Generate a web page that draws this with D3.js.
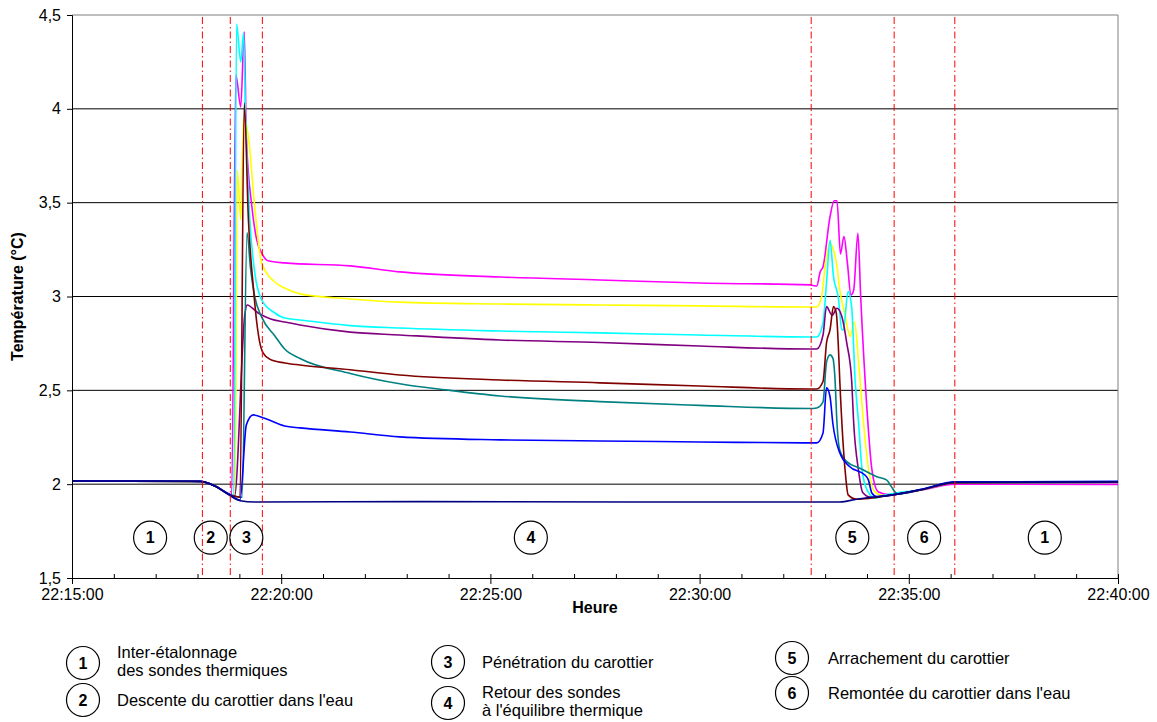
<!DOCTYPE html>
<html>
<head>
<meta charset="utf-8">
<script src="https://cdn.jsdelivr.net/npm/d3@7/dist/d3.min.js"></script>
<style>
  body { margin: 0; background: #fff; }
  text { font-family: "Liberation Sans", Arial, sans-serif; }
</style>
</head>
<body>
<div id="chart"></div>
<script>
// temps en secondes depuis 22:15:00, valeurs en °C
const startTime = "22:15:00";

const sondeMagenta = [[0,2.017],[184,2.014],[205,1.99],[226,1.945],[229,1.94],[235,4.18],[242,4.01],[247,4.41],[250,3.85],[258,3.477],[265,3.30],[272,3.232],[281,3.19],[305,3.179],[399,3.163],[470,3.131],[614,3.104],[757,3.088],[900,3.072],[1058,3.062],[1068,3.056],[1073,3.132],[1077,3.159],[1087,3.425],[1093,3.51],[1097,3.51],[1102,3.227],[1107,3.319],[1112,3.177],[1117,3.008],[1121,3.035],[1127,3.337],[1131,3.0],[1140,2.40],[1147,2.08],[1156,1.96],[1173,1.943],[1220,1.97],[1266,2.0],[1500,1.998]];
const sondeJaune = [[0,2.017],[184,2.014],[205,1.99],[226,1.945],[234,1.935],[237,3.674],[242,3.41],[246,3.95],[253,3.85],[262,3.477],[272,3.179],[290,3.08],[305,3.045],[327,3.014],[399,2.987],[470,2.97],[614,2.96],[757,2.955],[900,2.95],[1058,2.944],[1068,2.944],[1075,3.0],[1080,3.159],[1087,3.285],[1092,3.248],[1097,3.159],[1101,3.035],[1108,2.912],[1116,2.786],[1122,2.866],[1128,2.65],[1135,2.33],[1143,2.06],[1151,1.96],[1163,1.94],[1220,1.972],[1266,2.008],[1500,2.01]];
const sondeCyan = [[0,2.017],[184,2.014],[205,1.99],[226,1.945],[232,1.935],[236,4.452],[242,4.25],[246,4.404],[249,3.94],[255,3.408],[262,3.13],[272,2.982],[291,2.912],[305,2.885],[327,2.875],[399,2.845],[470,2.832],[614,2.816],[757,2.806],[900,2.795],[1058,2.784],[1068,2.784],[1077,2.859],[1082,3.072],[1087,3.30],[1092,3.106],[1099,2.992],[1104,2.822],[1106,2.822],[1113,3.026],[1118,2.946],[1123,2.555],[1128,2.325],[1133,2.076],[1140,1.97],[1152,1.925],[1159,1.934],[1220,1.972],[1266,2.008],[1500,2.01]];
const sondeViolet = [[0,2.017],[184,2.014],[205,1.99],[226,1.945],[233,1.935],[248,2.91],[251,2.955],[267,2.912],[285,2.88],[305,2.864],[327,2.848],[399,2.81],[470,2.795],[614,2.768],[757,2.755],[900,2.736],[1058,2.72],[1068,2.72],[1077,2.795],[1082,2.946],[1090,2.90],[1097,2.937],[1104,2.893],[1111,2.753],[1118,2.555],[1121,2.325],[1128,2.07],[1134,1.955],[1145,1.93],[1177,1.943],[1220,1.972],[1266,2.008],[1500,2.01]];
const sondeSarcelle = [[0,2.017],[184,2.014],[205,1.99],[226,1.945],[244,1.93],[251,3.339],[256,3.15],[262,3.0],[272,2.89],[291,2.79],[305,2.72],[327,2.67],[399,2.59],[470,2.535],[542,2.50],[614,2.47],[757,2.44],[900,2.42],[1058,2.403],[1068,2.406],[1077,2.438],[1082,2.65],[1087,2.689],[1091,2.673],[1094,2.573],[1097,2.325],[1101,2.182],[1111,2.12],[1130,2.085],[1154,2.04],[1168,2.023],[1175,1.987],[1180,1.96],[1184,1.948],[1220,1.972],[1266,2.008],[1500,2.01]];
const sondeBordeaux = [[0,2.017],[184,2.014],[205,1.99],[226,1.945],[241,1.93],[247,4.031],[253,3.408],[260,3.051],[265,2.86],[269,2.76],[274,2.70],[284,2.665],[305,2.646],[327,2.635],[399,2.61],[470,2.582],[614,2.555],[757,2.54],[900,2.523],[1058,2.507],[1068,2.507],[1077,2.547],[1082,2.753],[1087,2.822],[1092,2.946],[1096,2.912],[1099,2.733],[1101,2.555],[1109,2.06],[1113,1.943],[1125,1.92],[1177,1.943],[1220,1.972],[1266,2.008],[1500,2.01]];
const sondeBleu = [[0,2.017],[184,2.015],[205,1.99],[226,1.945],[241,1.915],[250,2.316],[260,2.369],[277,2.35],[305,2.31],[327,2.30],[399,2.278],[470,2.252],[614,2.236],[757,2.23],[900,2.225],[1058,2.22],[1068,2.22],[1077,2.273],[1082,2.513],[1087,2.467],[1091,2.326],[1101,2.167],[1115,2.094],[1137,2.049],[1142,2.023],[1147,1.953],[1154,1.934],[1177,1.943],[1220,1.974],[1266,2.012],[1500,2.015]];
const sondeMarine = [[0,2.017],[184,2.015],[205,1.99],[226,1.94],[241,1.912],[262,1.905],[500,1.907],[800,1.905],[1101,1.905],[1125,1.92],[1177,1.943],[1220,1.973],[1266,2.01],[1500,2.012]];

const series = [
  { data: sondeMagenta, color: "#FF00FF" },
  { data: sondeJaune, color: "#FFFF00" },
  { data: sondeCyan, color: "#00FFFF" },
  { data: sondeViolet, color: "#800080" },
  { data: sondeSarcelle, color: "#008080" },
  { data: sondeBordeaux, color: "#800000" },
  { data: sondeBleu, color: "#0000FF" },
  { data: sondeMarine, color: "#000080" }
];

// limites des phases (secondes)
const phaseLimits = [187, 227, 273, 1060, 1179, 1266];
// numéros des phases et position
const phaseNums = [1, 2, 3, 4, 5, 6, 1];
const phaseTimes = [112, 199, 250, 658, 1119, 1222, 1395];
const phaseLevel = 1.715;

const yTicks = [1.5, 2, 2.5, 3, 3.5, 4, 4.5];
const gridValues = [2, 2.5, 3, 3.5, 4];

const legendNums = [1, 2, 3, 4, 5, 6];
const legendTexts = [
  ["Inter-étalonnage", "des sondes thermiques"],
  ["Descente du carottier dans l'eau"],
  ["Pénétration du carottier"],
  ["Retour des sondes", "à l'équilibre thermique"],
  ["Arrachement du carottier"],
  ["Remontée du carottier dans l'eau"]
];

const width = 1157, height = 722;
const margin = { left: 72, right: 39, top: 15, bottom: 144 };

const t0 = d3.timeParse("%H:%M:%S")(startTime);
const toDate = s => new Date(t0.getTime() + s * 1000);

const svg = d3.select("#chart").append("svg")
  .attr("width", width)
  .attr("height", height);

svg.append("rect").attr("width", width).attr("height", height).attr("fill", "#fff");

const x = d3.scaleTime()
  .domain([t0, toDate(1500)])
  .range([margin.left, width - margin.right]);
const y = d3.scaleLinear()
  .domain([1.5, 4.5])
  .range([height - margin.bottom, margin.top]);

// grille horizontale
svg.append("g").selectAll("line")
  .data(gridValues)
  .enter().append("line")
  .attr("x1", x.range()[0]).attr("x2", x.range()[1])
  .attr("y1", d => y(d)).attr("y2", d => y(d))
  .attr("stroke", "#000").attr("stroke-width", 1);

// cadre haut et droit
svg.append("path")
  .attr("d", `M${x.range()[0]},${y(4.5)}H${x.range()[1]}V${y(1.5)}`)
  .attr("fill", "none").attr("stroke", "#808080").attr("stroke-width", 1);

// lignes des sondes
const line = d3.line()
  .x(d => x(toDate(d[0])))
  .y(d => y(d[1]))
  .curve(d3.curveMonotoneX);

svg.append("g").selectAll("path")
  .data(series)
  .enter().append("path")
  .attr("d", d => line(d.data))
  .attr("fill", "none")
  .attr("stroke", d => d.color)
  .attr("stroke-width", 1.6)
  .attr("stroke-linejoin", "round");

// limites des phases
svg.append("g").selectAll("line")
  .data(phaseLimits)
  .enter().append("line")
  .attr("x1", d => x(toDate(d))).attr("x2", d => x(toDate(d)))
  .attr("y1", y(4.5) + 2).attr("y2", y(1.5))
  .attr("stroke", "#FF0000").attr("stroke-width", 1)
  .attr("stroke-dasharray", "7,3,1.5,3");

// numéros des phases
const phases = svg.append("g").selectAll("g")
  .data(phaseNums)
  .enter().append("g")
  .attr("transform", (d, i) => `translate(${x(toDate(phaseTimes[i]))},${y(phaseLevel)})`);
phases.append("circle")
  .attr("r", 16.5).attr("fill", "none").attr("stroke", "#000").attr("stroke-width", 1.2);
phases.append("text")
  .attr("text-anchor", "middle").attr("dy", "0.36em")
  .attr("font-size", 16).attr("font-weight", "bold")
  .text(d => d);

// axes
const xAxis = svg.append("g")
  .attr("transform", `translate(0,${y(1.5)})`)
  .call(d3.axisBottom(x)
    .ticks(d3.timeMinute.every(5))
    .tickFormat(d3.timeFormat("%H:%M:%S"))
    .tickSize(6).tickPadding(5));
xAxis.selectAll("text").attr("font-size", 16).attr("font-family", null);

svg.append("g")
  .attr("transform", `translate(0,${y(1.5)})`)
  .call(d3.axisBottom(x)
    .ticks(d3.timeMinute.every(1))
    .tickFormat("")
    .tickSize(-4))
  .call(g => g.select(".domain").remove());

const yAxis = svg.append("g")
  .attr("transform", `translate(${x.range()[0]},0)`)
  .call(d3.axisLeft(y)
    .tickValues(yTicks)
    .tickFormat(d => String(d).replace(".", ","))
    .tickSize(5).tickPadding(6));
yAxis.selectAll("text").attr("font-size", 16).attr("font-family", null);

svg.selectAll(".domain").attr("stroke", "#000");
svg.selectAll(".tick line").attr("stroke", "#000");

// titres des axes
svg.append("text")
  .attr("transform", `translate(23,${(y(4.5) + y(1.5)) / 2}) rotate(-90)`)
  .attr("text-anchor", "middle")
  .attr("font-size", 16).attr("font-weight", "bold")
  .text("Température (°C)");

svg.append("text")
  .attr("x", (x.range()[0] + x.range()[1]) / 2)
  .attr("y", 613)
  .attr("text-anchor", "middle")
  .attr("font-size", 16).attr("font-weight", "bold")
  .text("Heure");

// légende des phases
const legendPos = [[83, 663], [83, 700], [448, 662], [448, 703], [792, 658], [792, 693]];
const legend = svg.append("g").selectAll("g")
  .data(legendNums)
  .enter().append("g")
  .attr("transform", (d, i) => `translate(${legendPos[i][0]},${legendPos[i][1]})`);
legend.append("circle")
  .attr("r", 16.5).attr("fill", "none").attr("stroke", "#000").attr("stroke-width", 1.2);
legend.append("text")
  .attr("text-anchor", "middle").attr("dy", "0.36em")
  .attr("font-size", 16).attr("font-weight", "bold")
  .text(d => d);
legend.append("text")
  .attr("x", (d, i) => i < 4 ? 34 : 36)
  .attr("font-size", 16.5)
  .selectAll("tspan")
  .data((d, i) => legendTexts[i].map((t, j, arr) => ({ t, j, n: arr.length })))
  .enter().append("tspan")
  .attr("x", function() { return this.parentNode.getAttribute("x"); })
  .attr("dy", d => d.j === 0 ? (d.n === 1 ? "0.36em" : "-0.33em") : "1.1em")
  .text(d => d.t);
</script>
</body>
</html>
